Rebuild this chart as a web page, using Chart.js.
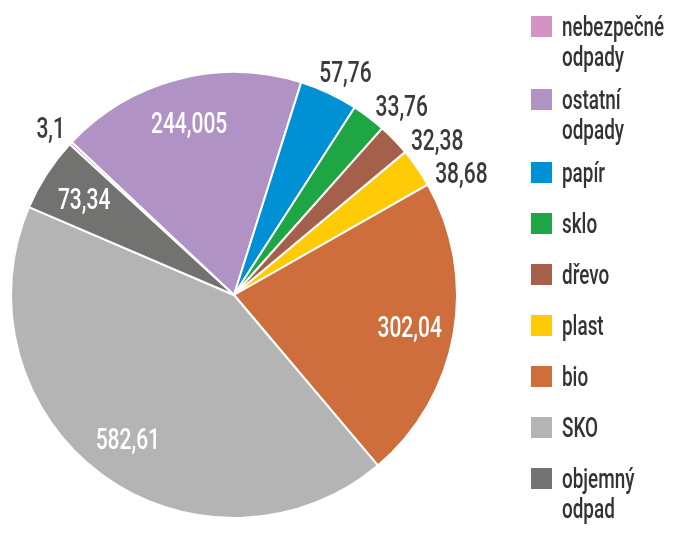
<!DOCTYPE html>
<html>
<head>
<meta charset="utf-8">
<script src="https://cdn.jsdelivr.net/npm/chart.js@4/dist/chart.umd.min.js"></script>
<style>
  html, body { margin: 0; padding: 0; background: #fff; }
  canvas { display: block; }
</style>
</head>
<body>
<canvas id="pie" width="678" height="538"></canvas>
<script>
// data
const categories = ["nebezpečné odpady", "ostatní odpady", "papír", "sklo", "dřevo", "plast", "bio", "SKO", "objemný odpad"];
const values = [3.1, 244.005, 57.76, 33.76, 32.38, 38.68, 302.04, 582.61, 73.34];
const colors = ["#D394C3", "#B192C4", "#0090D4", "#1EA544", "#A5604C", "#FFCA06", "#CD6E3C", "#B3B4B3", "#727271"];

const FONT = "Roboto, 'Noto Sans', sans-serif";
const SQUEEZE = 0.7; // narrow the text like the condensed face in the original

function fmt(v) {
  return String(v).replace(".", ",");
}

function squeezedText(ctx, text, x, y, align) {
  const w = ctx.measureText(text).width * SQUEEZE;
  let left = x;
  if (align === "center") left = x - w / 2;
  if (align === "right") left = x - w;
  ctx.save();
  ctx.translate(left, y);
  ctx.scale(SQUEEZE, 1);
  ctx.textAlign = "left";
  ctx.fillText(text, 0, 0);
  ctx.restore();
  return w;
}

const sliceLabels = {
  id: "sliceLabels",
  afterDatasetsDraw(chart) {
    const ctx = chart.ctx;
    const meta = chart.getDatasetMeta(0);
    const total = values.reduce((a, b) => a + b, 0);
    ctx.save();
    ctx.font = "500 30px " + FONT;
    const capH = 21;
    let prevY = null; // last outside label on the right side, to keep them apart
    meta.data.forEach((arc, i) => {
      const p = arc.getProps(["x", "y", "startAngle", "endAngle", "outerRadius"], true);
      let mid = (p.startAngle + p.endAngle) / 2;
      const text = fmt(values[i]);
      const w = ctx.measureText(text).width * SQUEEZE;
      let cx, cy;
      if (values[i] / total > 0.05) {
        ctx.fillStyle = "#ffffff";
        cx = p.x + Math.cos(mid) * p.outerRadius * 0.8;
        cy = p.y + Math.sin(mid) * p.outerRadius * 0.8;
      } else {
        ctx.fillStyle = "#3a3a3a";
        const r = p.outerRadius + 13;
        const place = (a) => [
          p.x + Math.cos(a) * r + Math.cos(a) * w / 2,
          p.y + Math.sin(a) * r + Math.sin(a) * capH / 2,
        ];
        [cx, cy] = place(mid);
        if (Math.cos(mid) > 0 && prevY !== null) {
          while (cy - prevY < 33 && mid < Math.PI / 2) {
            mid += 0.005;
            [cx, cy] = place(mid);
          }
        }
        if (Math.cos(mid) > 0) prevY = cy;
      }
      squeezedText(ctx, text, cx, cy + capH / 2, "center");
    });
    ctx.restore();
  }
};

const sideLegend = {
  id: "sideLegend",
  afterDraw(chart) {
    const ctx = chart.ctx;
    ctx.save();
    ctx.font = "500 27px " + FONT;
    let y = 16;
    categories.forEach((name, i) => {
      const lines = name.split(" ");
      ctx.fillStyle = colors[i];
      ctx.fillRect(531, y, 21, 21);
      ctx.fillStyle = "#333333";
      lines.forEach((ln, j) => {
        squeezedText(ctx, ln, 562, y + 20 + j * 30, "left");
      });
      y += 51 + (lines.length - 1) * 22;
    });
    ctx.restore();
  }
};

new Chart(document.getElementById("pie").getContext("2d"), {
  type: "pie",
  data: {
    labels: categories,
    datasets: [
      {
        data: values,
        backgroundColor: colors,
        borderColor: "#ffffff",
        borderWidth: 2,
      },
    ],
  },
  options: {
    responsive: false,
    animation: false,
    rotation: -47.5,
    layout: { padding: { left: 10, top: 71, right: 220, bottom: 19 } },
    plugins: {
      legend: { display: false },
      tooltip: { enabled: false },
    },
  },
  plugins: [sliceLabels, sideLegend],
});
</script>
</body>
</html>
